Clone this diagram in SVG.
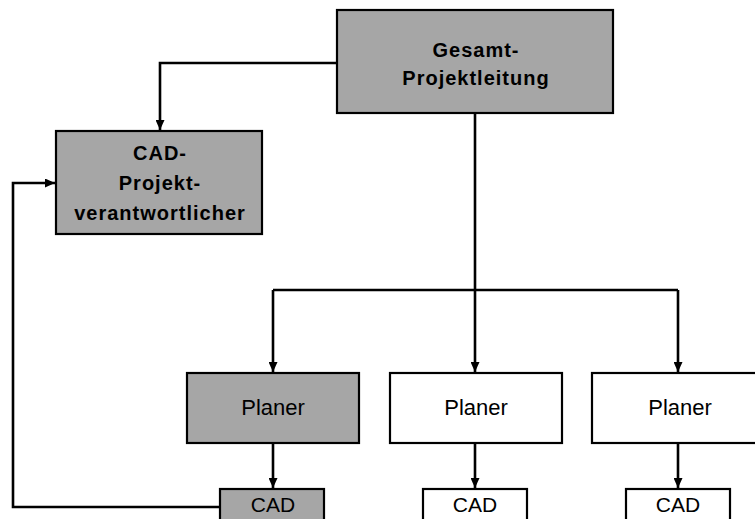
<svg xmlns="http://www.w3.org/2000/svg" width="755" height="519" viewBox="0 0 755 519">
<style>
.box{stroke:#000;stroke-width:2.2}
.g{fill:#a6a6a6}
.w{fill:#fff}
.b{font-family:"Liberation Sans",Arial,sans-serif;font-weight:bold;font-size:20px;letter-spacing:1px;text-anchor:middle;fill:#000}
.n{font-family:"Liberation Sans",Arial,sans-serif;font-size:22px;text-anchor:middle;fill:#000}
.s{font-family:"Liberation Sans",Arial,sans-serif;font-size:21px;text-anchor:middle;fill:#000}
.c{fill:none;stroke:#000;stroke-width:2.6}
</style>
<defs>
<marker id="ar" viewBox="0 0 10 10" refX="10" refY="5" markerWidth="10" markerHeight="9" markerUnits="userSpaceOnUse" orient="auto" preserveAspectRatio="none"><path d="M0,0 L10,5 L0,10 z" fill="#000"/></marker>
</defs>
<rect width="755" height="519" fill="#fff"/>
<g id="connectors">
<path class="c" d="M337,63 H160 V130" marker-end="url(#ar)"/>
<path class="c" d="M475,113 V290"/>
<path class="c" d="M273,290 H678"/>
<path class="c" d="M273,290 V372" marker-end="url(#ar)"/>
<path class="c" d="M475,290 V372" marker-end="url(#ar)"/>
<path class="c" d="M678,290 V372" marker-end="url(#ar)"/>
<path class="c" d="M273,443 V488" marker-end="url(#ar)"/>
<path class="c" d="M475,443 V488" marker-end="url(#ar)"/>
<path class="c" d="M678,443 V488" marker-end="url(#ar)"/>
<path class="c" d="M220,507 H13 V183 H55" marker-end="url(#ar)"/>
</g>
<g id="gesamt">
<rect class="box g" x="337" y="10" width="276" height="103"/>
<text class="b" x="476" y="57">Gesamt-</text>
<text class="b" x="476" y="85">Projektleitung</text>
</g>
<g id="cadprojekt">
<rect class="box g" x="56" y="131" width="206" height="103"/>
<text class="b" x="160" y="160">CAD-</text>
<text class="b" x="160" y="190">Projekt-</text>
<text class="b" x="160" y="220">verantwortlicher</text>
</g>
<g id="planer1">
<rect class="box g" x="187" y="373" width="172" height="70"/>
<text class="n" x="273" y="415">Planer</text>
</g>
<g id="planer2">
<rect class="box w" x="390" y="373" width="172" height="70"/>
<text class="n" x="476" y="415">Planer</text>
</g>
<g id="planer3">
<rect class="box w" x="592" y="373" width="172" height="70"/>
<text class="n" x="680" y="415">Planer</text>
</g>
<g id="cad1">
<rect class="box g" x="220" y="489" width="104" height="40"/>
<text class="s" x="273" y="512">CAD</text>
</g>
<g id="cad2">
<rect class="box w" x="423" y="489" width="104" height="40"/>
<text class="s" x="475" y="512">CAD</text>
</g>
<g id="cad3">
<rect class="box w" x="626" y="489" width="104" height="40"/>
<text class="s" x="678" y="512">CAD</text>
</g>
</svg>
